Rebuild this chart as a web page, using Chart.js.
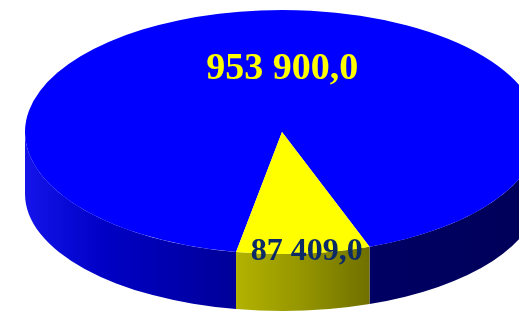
<!DOCTYPE html>
<html>
<head>
<meta charset="utf-8">
<script src="https://cdn.jsdelivr.net/npm/chart.js@4/dist/chart.umd.min.js"></script>
<style>
    html, body { margin: 0; padding: 0; background: #ffffff; overflow: hidden; }
    #wrap { position: relative; width: 519px; height: 313px; overflow: hidden; }
    #pie3d { position: absolute; left: 0; top: 0; }
</style>
</head>
<body>
<div id="wrap">
    <canvas id="pie3d" width="564" height="514"></canvas>
</div>
<script>
// Data
const categorias = ["A", "B"];
const valores = [953900.0, 87409.0];
const coloresTop = ["#0000FF", "#FFFF00"];
const coloresTexto = ["#FFFF00", "#0B2A66"];

// Screen geometry of the tilted pie
const centroY = 132;      // screen y of top face centre
const radioY = 122;       // vertical half-axis of top face
const fondoY = 194;       // screen y of bottom face centre
const radioYFondo = 117;

function formatear(v) {
    const partes = v.toFixed(1).split(".");
    partes[0] = partes[0].replace(/\B(?=(\d{3})+(?!\d))/g, " ");
    return partes.join(",");
}

// Side wall gradients per slice
function gradienteLado(ctx, i) {
    if (i === 1) {
        const g = ctx.createLinearGradient(232, 0, 376, 0);
        g.addColorStop(0, "#B4B400");
        g.addColorStop(0.5, "#949400");
        g.addColorStop(1, "#6C6C00");
        return g;
    }
    const g = ctx.createLinearGradient(25, 0, 540, 0);
    g.addColorStop(0, "#1414EA");
    g.addColorStop(0.15, "#0000C6");
    g.addColorStop(0.4, "#00009A");
    g.addColorStop(0.68, "#000064");
    g.addColorStop(1, "#000058");
    return g;
}

const pie3dPlugin = {
    id: "pie3d",
    beforeDatasetsDraw(chart) {
        const ctx = chart.ctx;
        const meta = chart.getDatasetMeta(0);
        const cx = meta.data[0].x;
        const r = meta.data[0].outerRadius;

        // draw the visible part of the side wall (front half, 0..PI)
        meta.data.forEach((arc, i) => {
            const s = arc.startAngle, e = arc.endAngle;
            for (let n = -1; n <= 2; n++) {
                const a0 = Math.max(s, 2 * Math.PI * n);
                const a1 = Math.min(e, 2 * Math.PI * n + Math.PI);
                if (a1 <= a0) continue;
                ctx.save();
                ctx.beginPath();
                ctx.ellipse(cx, centroY, r, radioY, 0, a0, a1, false);
                ctx.lineTo(cx + r * Math.cos(a1), fondoY + radioYFondo * Math.sin(a1));
                ctx.ellipse(cx, fondoY, r, radioYFondo, 0, a1, a0, true);
                ctx.closePath();
                ctx.fillStyle = gradienteLado(ctx, i);
                ctx.fill();
                ctx.restore();
            }
        });

        // squash the chart's circle into the top ellipse
        ctx.save();
        ctx.translate(0, centroY);
        ctx.scale(1, radioY / r);
        ctx.translate(0, -meta.data[0].y);
    },
    afterDatasetsDraw(chart) {
        chart.ctx.restore();
    },
    afterDraw(chart, args, opts) {
        const ctx = chart.ctx;
        const meta = chart.getDatasetMeta(0);
        meta.data.forEach((arc, i) => {
            const mid = (arc.startAngle + arc.endAngle) / 2;
            const f = opts.fracciones[i];
            const x = arc.x + arc.outerRadius * f * Math.cos(mid) + opts.desplazX[i];
            const y = centroY + radioY * f * Math.sin(mid);
            ctx.save();
            ctx.font = "bold " + opts.tamanos[i] + "px 'Liberation Serif', 'Times New Roman', serif";
            ctx.fillStyle = coloresTexto[i];
            ctx.textAlign = "center";
            ctx.textBaseline = "alphabetic";
            ctx.fillText(formatear(valores[i]), x, y + opts.tamanos[i] * 0.34);
            ctx.restore();
        });
    }
};

const ctx = document.getElementById("pie3d").getContext("2d");
new Chart(ctx, {
    type: "pie",
    data: {
        labels: categorias,
        datasets: [{
            data: valores,
            backgroundColor: coloresTop,
            borderWidth: 0
        }]
    },
    options: {
        responsive: false,
        animation: false,
        devicePixelRatio: 1,
        rotation: 190.3,
        layout: { padding: 0 },
        plugins: {
            legend: { display: false },
            tooltip: { enabled: false },
            pie3d: {
                fracciones: [0.54, 0.96],
                desplazX: [12, 4],
                tamanos: [38, 32]
            }
        }
    },
    plugins: [pie3dPlugin]
});
</script>
</body>
</html>
